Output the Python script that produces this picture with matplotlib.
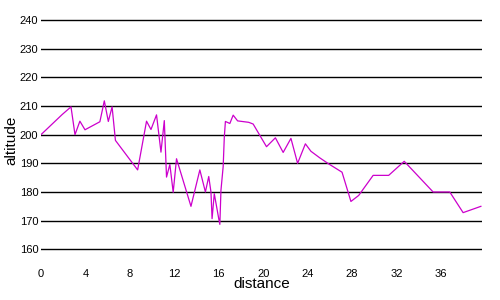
import numpy as np
import matplotlib
matplotlib.use("Agg")
import matplotlib.pyplot as plt

plt.rcParams['font.family'] = ['Liberation Sans', 'DejaVu Sans']

# values
distance = [0, 1.9, 2.7, 3.06, 3.5, 3.96, 5.3, 5.7, 6.06, 6.4, 6.7, 8.0, 8.7,
            9.5, 9.9, 10.4, 10.8, 11.1, 11.3, 11.6, 11.9, 12.2, 13.5, 14.3,
            14.8, 15.1, 15.3, 15.4, 15.6, 16.0, 16.1, 16.2, 16.4, 16.5, 16.6,
            17.0, 17.3, 17.7, 18.7, 19.1, 20.3, 21.1, 21.8, 22.5, 23.1, 23.8,
            24.3, 25.1, 25.9, 27.1, 27.9, 28.6, 29.9, 31.3, 32.7, 35.3, 36.8,
            38.0, 39.6]
altitude = [200, 207, 209.7, 200, 204.7, 201.7, 204.5, 211.8, 204.6, 209.7,
            198, 191.3, 187.7, 204.7, 201.8, 206.9, 193.9, 204.9, 185.2, 189.6,
            179.9, 191.6, 175, 187.7, 180, 185.4, 180, 170.7, 179.4, 170.7,
            168.7, 180.6, 188.9, 199, 204.6, 203.9, 206.8, 204.8, 204.3, 203.7,
            195.8, 198.9, 193.8, 198.7, 190, 196.8, 194.2, 191.9, 189.8, 186.9,
            176.7, 178.8, 185.8, 185.8, 190.7, 180, 180, 172.8, 175]

x_ticks = np.arange(0, 37, 4)
y_ticks = np.arange(160, 241, 10)

fig = plt.figure(figsize=(5, 3), dpi=100)
ax = fig.add_axes([0.082, 0.123, 0.882, 0.82])

ax.plot(distance, altitude, color='#cc00cc', lw=0.9, zorder=3)

ax.set_xlim(0, 39.7)
ax.set_ylim(155.2, 241)
ax.set_xticks(x_ticks)
ax.set_yticks(y_ticks)
ax.grid(axis='y', color='black', lw=1.0)
ax.tick_params(length=0, labelsize=8, pad=2)
ax.tick_params(axis='x', pad=4)
for s in ax.spines.values():
    s.set_visible(False)

ax.set_xlabel('distance', fontsize=11, labelpad=-1)
ax.set_ylabel('altitude', fontsize=11, labelpad=1)

fig.savefig('out.png')
